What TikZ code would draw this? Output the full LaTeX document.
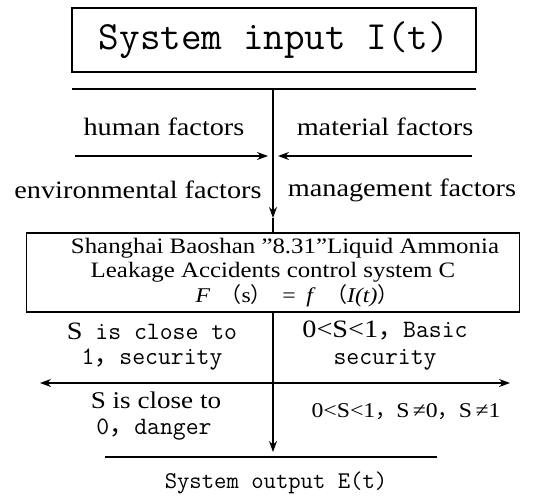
\documentclass[tikz,border=0pt]{standalone}
\usepackage{fontspec}
\setmainfont[FakeStretch=1.13]{Liberation Serif}
\newfontfamily\cjk{Noto Sans CJK SC}
\usetikzlibrary{arrows.meta}
\begin{document}
\begin{tikzpicture}[x=1pt,y=-1pt,
  line width=1.2pt,
  arr/.style={-{Stealth[length=11pt,width=8pt]}},
  arrtwo/.style={{Stealth[length=11pt,width=8pt]}-{Stealth[length=11pt,width=8pt]}},
  fac/.style={inner sep=0pt,font=\fontsize{25}{28}\selectfont},
  mono/.style={inner sep=0pt,font=\fontsize{25}{27}\selectfont}]
\useasboundingbox (0,0) rectangle (535,495);
% top box
\node[draw, minimum width=404pt, minimum height=64pt, inner sep=0pt,
      font=\fontsize{40}{42}\selectfont\ttfamily] (top) at (274,40) {System input I(t)};
\coordinate (hlL) at (72,89);
\coordinate (hlR) at (476,89);
\coordinate (hl) at (273,89);
\draw (hlL) -- (hlR);
% factors
\node[fac] (human) at (164,127) {human factors};
\node[fac] (material) at (385,127) {material factors};
\node[fac] (env) at (138,190) {environmental factors};
\node[fac] (mgmt) at (402,190) {management factors};
\coordinate (aL) at (75,156);
\coordinate (aLt) at (268,156);
\coordinate (aR) at (472,156);
\coordinate (aRt) at (278,156);
\draw[arr] (aL) -- (aLt);
\draw[arr] (aR) -- (aRt);
% control box
\node[draw, minimum width=493pt, minimum height=79pt, inner sep=0pt, align=center,
      font=\fontsize{22}{24.5}\selectfont] (ctrl) at (273,272.5)
  {\hspace*{24pt}Shanghai Baoshan ”8.31”Liquid Ammonia\\
   Leakage Accidents control system C\\
   \hspace*{48pt}{\fontsize{21}{24.5}\selectfont\textit{F}\enspace{\cjk （}s{\cjk ）}\enspace=\enspace\textit{f}\enspace{\cjk （}\textit{I(t)}{\cjk ）}}};
\coordinate (vt) at (273,218);
\draw[arr] (hl) -- (vt);
\draw (vt) -- (ctrl.north);
% outputs
\coordinate (vb) at (273,452);
\draw[arr] (ctrl.south) -- (vb);
\coordinate (hL) at (40,383);
\coordinate (hR) at (510,383);
\draw[arrtwo] (hL) -- (hR);
\node[mono] (ul1) at (152,331) {S\texttt{ is close to}};
\node[mono] (ul2) at (152,360) {\texttt{1{\cjk ，}security}};
\node[mono] (ur1) at (385,331) {0<S<1{\cjk ，}\texttt{Basic}};
\node[mono] (ur2) at (385,360) {\texttt{security}};
\node[inner sep=0pt,font=\fontsize{24}{26}\selectfont] (ll1) at (156,400) {S is close to};
\node[mono] (ll2) at (154,430) {\texttt{0{\cjk ，}danger}};
\node[inner sep=0pt,font=\fontsize{21}{23}\selectfont] (lr) at (406,412) {0<S<1{\cjk ，}S\,≠0{\cjk ，}S\,≠1};
\coordinate (bL) at (105,457);
\coordinate (bR) at (437,457);
\draw (bL) -- (bR);
\node[inner sep=0pt,font=\fontsize{24}{26}\selectfont\ttfamily] (out) at (276,483) {System output E(t)};
\end{tikzpicture}
\end{document}
